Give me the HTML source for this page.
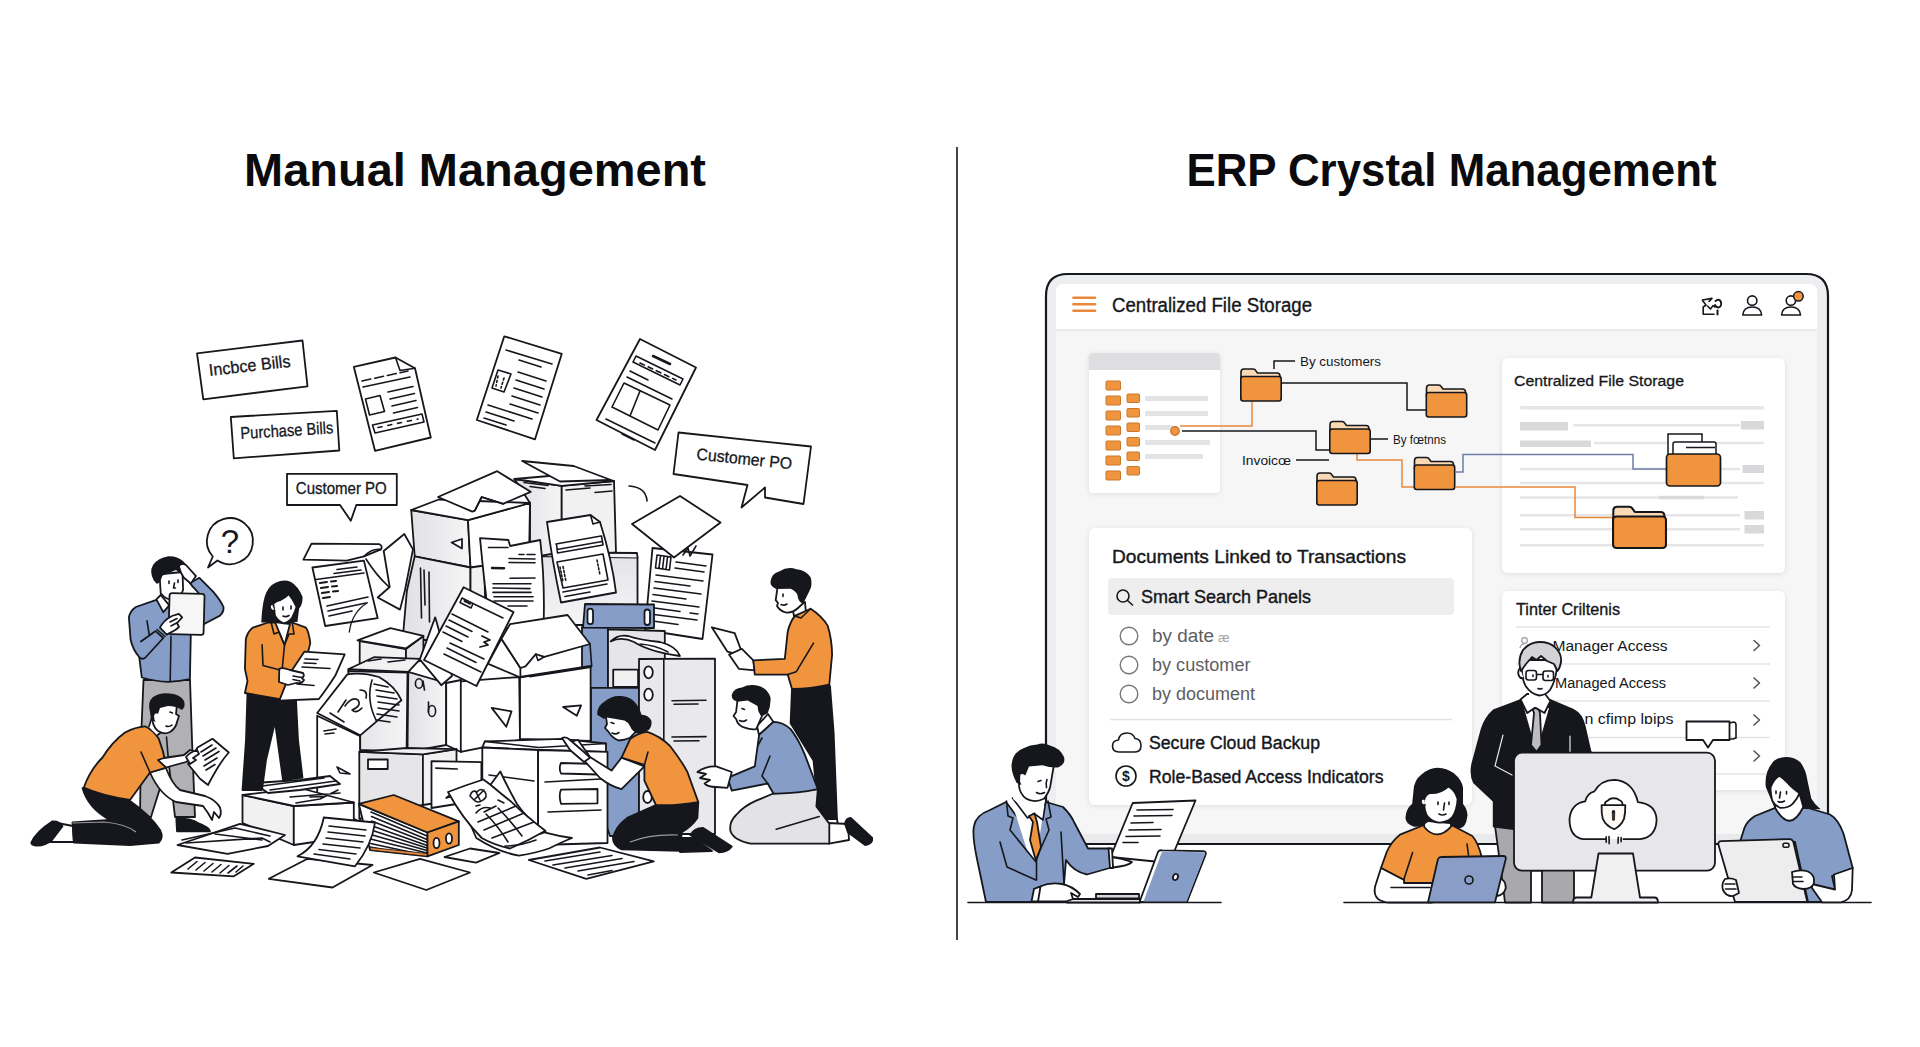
<!DOCTYPE html>
<html lang="en">
<head>
<meta charset="utf-8">
<title>Manual Management vs ERP Crystal Management</title>
<style>
html,body{margin:0;padding:0;background:#fff;}
body{width:1920px;height:1047px;overflow:hidden;font-family:"Liberation Sans",sans-serif;}
svg{display:block;}
text{font-family:"Liberation Sans",sans-serif;fill:#15171c;}
.k{stroke:#15171c;stroke-width:1.8;stroke-linejoin:round;stroke-linecap:round;}
.w{fill:#fff;}
.n{fill:none;}
.g{fill:#e6e6e8;}
.g2{fill:#d8d8db;}
.g3{fill:#f1f1f2;}
.o{fill:#f0943e;}
.b{fill:#859dc7;}
.d{fill:#15171c;}
.l{stroke:#15171c;stroke-width:1.6;stroke-linecap:round;stroke-linejoin:round;fill:none;}
.l2{stroke:#15171c;stroke-width:1.2;stroke-linecap:round;fill:none;}
</style>
</head>
<body>
<svg width="1920" height="1047" viewBox="0 0 1920 1047">
<rect width="1920" height="1047" fill="#fff"/>
<!-- TITLES -->
<text x="475" y="186" text-anchor="middle" font-size="45.500" font-weight="bold" style="fill:#0b0b0d" textLength="462" lengthAdjust="spacingAndGlyphs">Manual Management</text>
<text x="1451.500" y="186" text-anchor="middle" font-size="45.500" font-weight="bold" style="fill:#0b0b0d" textLength="530" lengthAdjust="spacingAndGlyphs">ERP Crystal Management</text>
<line x1="957" y1="147" x2="957" y2="940" stroke="#15171c" stroke-width="1.6"/>
<!-- MONITOR -->
<g>
<defs>
<filter id="sh" x="-5%" y="-5%" width="110%" height="112%"><feDropShadow dx="0" dy="1" stdDeviation="2.5" flood-color="#000" flood-opacity="0.10"/></filter>
<g id="fold">
<path d="M1 4 Q1 1 4 1 L13 1 Q15 1 16 3 L17.5 5 L37 5 Q40 5 40 8 L40 12 L1 12 Z" fill="#fbd9b4" stroke="#15171c" stroke-width="1.6" stroke-linejoin="round"/>
<rect x="0.8" y="8.5" width="40.4" height="24.5" rx="2.5" fill="#f0943e" stroke="#15171c" stroke-width="1.6"/>
</g>
</defs>
<path d="M1046 844 L1046 296 Q1046 274 1068 274 L1806 274 Q1828 274 1828 296 L1828 844 Z" fill="#eceef0" stroke="#15171c" stroke-width="2.2"/>
<path d="M1056 835 L1056 292 Q1056 284 1064 284 L1809 284 Q1817 284 1817 292 L1817 834 Z" fill="#f6f6f7"/>
<rect x="1047.200" y="834" width="779.600" height="9" fill="#e9eaec"/>
<path d="M1056 330 L1056 292 Q1056 284 1064 284 L1809 284 Q1817 284 1817 292 L1817 330 Z" fill="#fff"/>
<line x1="1056" y1="330" x2="1817" y2="330" stroke="#e4e4e6" stroke-width="1.5"/>
<!-- hamburger -->
<g stroke="#e8883a" stroke-width="2.6" stroke-linecap="round"><line x1="1073.5" y1="297.8" x2="1095" y2="297.8"/><line x1="1073.5" y1="304.3" x2="1095" y2="304.3"/><line x1="1073.5" y1="310.8" x2="1095" y2="310.8"/></g>
<text x="1112" y="312" font-size="19.5" textLength="200" lengthAdjust="spacingAndGlyphs" stroke="#15171c" stroke-width="0.35">Centralized File Storage</text>
<!-- header icons -->
<g class="l" stroke-width="1.8">
<path d="M1702.500 300 L1712 298.400 L1709 301.500 M1702.500 300.500 L1706 305 L1703.200 307 L1703.200 314.200 L1714 314.200 M1707.500 306 L1710.500 309 L1713 305.600 L1715 307"/>
<path d="M1715.500 301 Q1719 298 1721 302 Q1722 307 1718 307.500 Q1716 307 1715 305" stroke-width="1.900"/>
<path d="M1717.500 310.600 L1717.500 314.600" stroke-width="2"/>
<circle cx="1752.200" cy="300.600" r="4.700"/><path d="M1742.800 315 Q1743.500 307 1752.200 307 Q1761 307 1761.600 315 Z"/>
<circle cx="1790.900" cy="300.600" r="4.700"/><path d="M1781.600 315 Q1782.200 307 1790.900 307 Q1799.800 307 1800.500 315 Z"/>
</g>
<circle cx="1798.400" cy="296.300" r="4.800" fill="#f0943e" stroke="#15171c" stroke-width="1.5"/>
<!-- left small card -->
<rect x="1089" y="353" width="131" height="140" rx="4" fill="#fff" filter="url(#sh)"/>
<path d="M1089 370 L1089 357 Q1089 353 1093 353 L1216 353 Q1220 353 1220 357 L1220 370 Z" fill="#dedee0"/>
<g fill="#f0943e" stroke="#c9772e" stroke-width="1">
<rect x="1106" y="381" width="14.500" height="9" rx="1"/><rect x="1106" y="396" width="14.500" height="9" rx="1"/><rect x="1106" y="411" width="14.500" height="9" rx="1"/><rect x="1106" y="426" width="14.500" height="9" rx="1"/><rect x="1106" y="441" width="14.500" height="9" rx="1"/><rect x="1106" y="456" width="14.500" height="9" rx="1"/><rect x="1106" y="471" width="14.500" height="9" rx="1"/>
<rect x="1127" y="394" width="12.500" height="8.500" rx="1"/><rect x="1127" y="408.500" width="12.500" height="8.500" rx="1"/><rect x="1127" y="423" width="12.500" height="8.500" rx="1"/><rect x="1127" y="437.500" width="12.500" height="8.500" rx="1"/><rect x="1127" y="452" width="12.500" height="8.500" rx="1"/><rect x="1127" y="466.500" width="12.500" height="8.500" rx="1"/>
</g>
<g fill="#e3e3e5"><rect x="1145" y="396" width="63" height="5" rx="1"/><rect x="1145" y="411" width="63" height="5" rx="1"/><rect x="1145" y="425" width="28" height="5" rx="1"/><rect x="1145" y="440" width="65" height="5" rx="1"/><rect x="1145" y="454" width="58" height="5" rx="1"/></g>
<!-- connectors -->
<g fill="none" stroke-width="1.5" stroke-linejoin="miter">
<path d="M1180 426 L1252 426 L1252 402" stroke="#e8883a"/>
<path d="M1182 431 L1316 431 L1316 450 L1330 450" stroke="#15171c"/>
<path d="M1274 369 L1274 361 L1295 361" stroke="#15171c"/>
<path d="M1281 383 L1407 383 L1407 410 L1426 410" stroke="#15171c"/>
<path d="M1370 439 L1388 439" stroke="#15171c"/>
<path d="M1296 460 L1329 460" stroke="#15171c"/>
<path d="M1357 454 L1357 460 L1402 460 L1402 487 L1414 487" stroke="#e8883a"/>
</g>
<circle cx="1175" cy="431" r="4.300" fill="#f0943e" stroke="#c46f28" stroke-width="1.2"/>
<!-- right card -->
<rect x="1502" y="358" width="283" height="215" rx="6" fill="#fff" filter="url(#sh)"/>
<text x="1514" y="386" font-size="15.5" textLength="170" lengthAdjust="spacingAndGlyphs" stroke="#15171c" stroke-width="0.3">Centralized File Storage</text>
<g fill="#e6e6e8">
<rect x="1520" y="406" width="244" height="3.500" rx="1"/>
<rect x="1573" y="424" width="167" height="2.500"/>
<rect x="1594" y="441.800" width="170" height="2.500"/>
<rect x="1520" y="467.800" width="220" height="2.500"/>
<rect x="1520" y="481.800" width="244" height="2.500"/>
<rect x="1520" y="496.300" width="218" height="2.500"/>
<rect x="1520" y="514" width="220" height="2.500"/>
<rect x="1520" y="528" width="220" height="2.500"/>
<rect x="1520" y="544" width="244" height="2.500"/>
</g>
<g fill="#d9d9db">
<rect x="1520" y="422" width="48" height="8.500"/><rect x="1741" y="421" width="23" height="8.500"/>
<rect x="1520" y="440.500" width="71" height="6.500"/>
<rect x="1742.500" y="465" width="21.500" height="8"/>
<rect x="1659" y="495.800" width="45" height="3.500"/>
<rect x="1744.500" y="511" width="19.500" height="8.500"/><rect x="1744.500" y="525" width="19.500" height="8.500"/>
</g>
<g fill="none" stroke-width="1.5">
<path d="M1456 472 L1463 472 L1463 454.500 L1633 454.500 L1633 469 L1666 469" stroke="#6f7fa3"/>
<path d="M1456 487 L1575 487 L1575 517.500 L1613 517.500" stroke="#e8883a"/>
</g>
<!-- folders -->
<use href="#fold" x="1240" y="368"/>
<use href="#fold" x="1425.500" y="384"/>
<use href="#fold" x="1329" y="420.500"/>
<use href="#fold" x="1413.500" y="456.500"/>
<use href="#fold" x="1316" y="472"/>
<g transform="translate(1612,505.500) scale(1.31,1.29)"><use href="#fold"/></g>
<!-- big folder w/ papers -->
<rect x="1668" y="434" width="34" height="30" fill="#fff" stroke="#15171c" stroke-width="1.5"/>
<path d="M1673 462 L1673 444 Q1673 442 1675 442 L1714 442 Q1716 442 1716 444 L1716 462 Z" fill="#fff" stroke="#15171c" stroke-width="1.5"/>
<line x1="1686" y1="447.500" x2="1715" y2="447.500" stroke="#15171c" stroke-width="1.5"/>
<rect x="1666.500" y="454" width="54" height="32" rx="3.500" fill="#f0943e" stroke="#15171c" stroke-width="1.7"/>
<!-- labels -->
<text x="1300" y="366" font-size="12.500" textLength="81" lengthAdjust="spacingAndGlyphs">By customers</text>
<text x="1393" y="443.500" font-size="12.500" textLength="53" lengthAdjust="spacingAndGlyphs">By fœtnns</text>
<text x="1242" y="464.500" font-size="13" textLength="49" lengthAdjust="spacingAndGlyphs">Invoicœ</text>
<!-- bottom-left card -->
<rect x="1089" y="528" width="383" height="277" rx="6" fill="#fff" filter="url(#sh)"/>
<text x="1112" y="562.500" font-size="19" textLength="294" lengthAdjust="spacingAndGlyphs" stroke="#15171c" stroke-width="0.4">Documents Linked to Transactions</text>
<rect x="1108" y="578" width="346" height="37" rx="4" fill="#eeeeef"/>
<circle cx="1123" cy="596" r="6" class="l" stroke-width="1.7"/><line x1="1127.500" y1="600.500" x2="1132.500" y2="605" class="l" stroke-width="1.9"/>
<text x="1141" y="602.500" font-size="19" textLength="170" lengthAdjust="spacingAndGlyphs" stroke="#15171c" stroke-width="0.4">Smart Search Panels</text>
<g fill="#fff" stroke="#777" stroke-width="1.4"><circle cx="1129" cy="636" r="8.800"/><circle cx="1129" cy="665" r="8.800"/><circle cx="1129" cy="694" r="8.800"/></g>
<g font-size="18" style="fill:#5e5e62"><text x="1152" y="642" style="fill:#5e5e62" textLength="62" lengthAdjust="spacingAndGlyphs">by date</text><text x="1218" y="642" font-size="13" style="fill:#a2a2a6">æ</text>
<text x="1152" y="671" style="fill:#5e5e62" textLength="98.500" lengthAdjust="spacingAndGlyphs">by customer</text>
<text x="1152" y="700" style="fill:#5e5e62" textLength="103" lengthAdjust="spacingAndGlyphs">by document</text></g>
<line x1="1110" y1="719.500" x2="1452" y2="719.500" stroke="#e2e2e4" stroke-width="1.5"/>
<path d="M1119 752 Q1112.500 752 1112.500 746 Q1112.500 740.500 1118.500 740 Q1119.500 733 1127 733 Q1133 733 1135 738.500 Q1141 739 1141 745.500 Q1141 752 1135 752 Z" class="l" stroke-width="1.7"/>
<text x="1149" y="749" font-size="18" textLength="171" lengthAdjust="spacingAndGlyphs" stroke="#15171c" stroke-width="0.4">Secure Cloud Backup</text>
<circle cx="1126" cy="776" r="10" class="l" stroke-width="1.7"/>
<text x="1126" y="781" font-size="14" text-anchor="middle" font-weight="bold">$</text>
<text x="1149" y="782.500" font-size="18" textLength="234.500" lengthAdjust="spacingAndGlyphs" stroke="#15171c" stroke-width="0.4">Role-Based Access Indicators</text>
<!-- bottom-right card -->
<rect x="1502" y="591" width="283" height="199" rx="6" fill="#fff" filter="url(#sh)"/>
<text x="1516" y="615" font-size="16.500" textLength="104" lengthAdjust="spacingAndGlyphs" stroke="#15171c" stroke-width="0.35">Tinter Criltenis</text>
<g stroke="#e4e4e6" stroke-width="1.4"><line x1="1516" y1="627" x2="1770" y2="627"/><line x1="1516" y1="664" x2="1770" y2="664"/><line x1="1516" y1="701" x2="1770" y2="701"/><line x1="1516" y1="737.500" x2="1770" y2="737.500"/><line x1="1516" y1="774" x2="1770" y2="774"/></g>
<circle cx="1524.500" cy="640.500" r="2.800" fill="none" stroke="#9a9a9e" stroke-width="1.200"/><path d="M1520 648 Q1520.500 644 1524.500 644" fill="none" stroke="#9a9a9e" stroke-width="1.200"/>
<g font-size="15.500" style="fill:#2a2a2e"><text x="1552.500" y="651" textLength="115" lengthAdjust="spacingAndGlyphs">Manager Access</text>
<text x="1555" y="687.500" textLength="111" lengthAdjust="spacingAndGlyphs">Managed Access</text>
<text x="1584.500" y="724" textLength="89" lengthAdjust="spacingAndGlyphs">n cfimp lɒips</text></g>
<g class="l" stroke="#555" stroke-width="1.3" style="stroke:#555"><path d="M1754 640.500 L1759.500 645.500 L1754 650.500"/><path d="M1754 678 L1759.500 683 L1754 688"/><path d="M1754 715 L1759.500 720 L1754 725"/><path d="M1754 751 L1759.500 756 L1754 761"/></g>
<path d="M1730 723 L1733.500 722 Q1736 722 1736 725 L1736 738 L1733 739 L1730 739" class="l w" stroke-width="1.5"/>
<path d="M1686.500 721.500 L1729.500 721.500 L1729.500 740 L1713 740 L1708 747.500 L1703 740 L1686.500 740 Z" class="k w" stroke-width="1.6"/>
</g>
<!-- RIGHT PEOPLE -->
<g>
<!-- desk lines -->
<line x1="968" y1="902.500" x2="1221" y2="902.500" class="l" stroke-width="1.8"/>
<line x1="1344" y1="902.500" x2="1871" y2="902.500" class="l" stroke-width="1.8"/>
<!-- man in blue suit -->
<g>
<!-- far arm + suit -->
<path d="M986 902 L977 859 Q972 835 974 826 Q976 815 990 810 L1006 802 L1027 830 L1046 802 L1063 807 Q1071 815 1074 822 L1088 848.500 L1110 848.500 L1111.500 867.500 L1087 874.500 Q1074 872 1066 860 L1064 884 L1063 902 Z" class="k b"/>
<!-- shirt -->
<path d="M1011 800 L1027 850 L1036 862 L1045 800 Z" class="w"/>
<!-- collar -->
<path d="M1012.500 798 L1027.500 818 L1034 813.500 L1043 820 L1046 800" class="l w"/>
<!-- tie -->
<path d="M1029 816 L1034.500 813.500 L1037 822 L1041 847 L1036 861 L1030 840 L1033 822 Z" class="k o" stroke-width="1.4"/>
<!-- lapels -->
<path d="M1006.500 801 L1008 816 L1013 818 L1010 830 L1036 862 M1048 801 L1051 817 L1046 819 L1049 830 L1036.500 858 L1036.500 880" class="l"/>
<path d="M1000 842 L1007 867 L1036 880 M1061 832 L1064 884" class="l"/>
<!-- neck & face -->
<path d="M1016 784 L1013 799 L1030 813 L1044 799 L1045 792 Z" class="w"/>
<path d="M1019.500 772 L1019 786 Q1020 794 1026 798.500 Q1034 803.500 1044 798.800 Q1049 792 1050.200 786.700 L1053.700 766 L1040 761 L1026 763 Z" class="k w" stroke-width="1.6"/>
<path d="M1016.700 783 Q1011 772 1011.600 764.400 Q1013 752 1024 748 Q1030 745 1037.300 744.600 Q1043 742 1050 745.500 Q1060 748 1064 757 Q1066 764 1058 767.500 Q1050 768 1042.500 765.200 L1029 766.500 L1025.300 775.500 Q1021 772.500 1019.300 776 Q1019 781 1021.500 785 Z" class="d"/>
<path d="M1038 781.500 L1041 780.500 M1047 779.500 Q1045.500 783 1046.500 787.500 M1036.500 792.500 Q1040 795 1044.500 792.500" class="l" stroke-width="1.5"/>
<!-- paper -->
<path d="M1132.700 803 L1195.500 800.500 L1174 852 L1160 862 L1110.500 857 Z" class="k w"/>
<path d="M1137 810 L1173 809.500 M1134 816 L1172 815.500 M1131 823 L1153 822.500 M1129 830 L1161 829.500 M1126 836.500 L1160 836 M1123 842.500 L1138 842.500" class="l" stroke-width="1.5"/>
<!-- right hand -->
<path d="M1110 857 Q1122 858 1132 862 Q1128 866 1113 867.500 Z" class="k w" stroke-width="1.5"/>
<path d="M1108.500 848.500 L1112 848.500 L1113 868 L1110 868 Z" class="k w" stroke-width="1.3"/>
<!-- laptop -->
<path d="M1067 899 L1140 899 L1140 902.500 L1067 902.500 Z" class="k g"/>
<path d="M1096 894 L1139 894 L1139 898.500 L1096 898.500 Z" class="k g2" stroke-width="1.4"/>
<path d="M1158 852 Q1159 850 1162 850.300 L1203 851.200 Q1207 851.500 1205.500 855 L1187 902 L1139.500 902 Z" class="k w"/>
<path d="M1161.500 853 Q1162 851.500 1164 851.600 L1203 852.200 Q1205.500 852.500 1204.500 855 L1186.500 901.500 L1143.500 901.500 Z" class="b"/>
<ellipse cx="1175.500" cy="877" rx="2.400" ry="3.200" class="k w" stroke-width="1.4" transform="rotate(20 1175.500 877)"/>
<!-- left hand -->
<path d="M1034 889 L1040 886.500 Q1050 882 1062 884 Q1072 886 1080 894 L1078 897 L1071 893 L1073 899 L1066 901.500 L1042 901.500 L1036 901.500 Z" class="k w" stroke-width="1.5"/>
<path d="M1034 889 L1040.500 886.500 L1038 901.500 L1031.500 901.500 Z" class="k w" stroke-width="1.3"/>
</g>
<!-- standing man -->
<g>
<!-- trousers -->
<path d="M1495 826 L1574 826 L1574 902.500 L1542 902.500 L1542 870.700 L1531 870.700 L1531 902.500 L1505 902.500 Q1501 870 1495 826 Z" fill="#a9a9ab" class="k"/>
<!-- jacket -->
<path d="M1520.500 700 L1494 710 Q1485 718 1481.700 729 L1472.300 763.700 Q1470 775 1474 782.500 L1493.700 801 L1493.700 826.600 L1513.800 829.200 L1600 829 L1600 760 L1590.500 751.700 L1584.700 726.300 Q1582 714 1574 710.200 L1550.400 700 Z" class="k d"/>
<path d="M1524 708 L1536.500 752 L1549 708 Z" class="w"/>
<path d="M1503 735 L1495 766 L1512 775 M1570 736 L1570 752" stroke="#e8e8ea" stroke-width="1.2" fill="none" stroke-linecap="round"/>
<!-- tie -->
<path d="M1532.500 709 L1538 707.600 L1540 713 L1541.500 745 L1536.500 751.700 L1531 745 L1534 713 Z" fill="#bdbdc0" class="k" stroke-width="1.3"/>
<!-- collar -->
<path d="M1520.500 699.500 L1527.200 713 L1535.200 707.600 L1544.500 713 L1550.400 701 L1545 694 L1527 694 Z" class="k w" stroke-width="1.5"/>
<!-- neck -->
<path d="M1529 688 L1529 702 L1535.200 707 L1544 701 L1544 688 Z" class="w"/>
<!-- face -->
<path d="M1521.800 668 Q1522 680 1525.800 686.200 Q1531 694 1539.200 695.500 Q1546 695 1550 690 Q1555 682 1556.600 670 L1556 660 L1523 660 Z" class="k w" stroke-width="1.6"/>
<path d="M1520 668 Q1517 672 1519 676 Q1520.500 679 1523.500 678" class="k w" stroke-width="1.4"/>
<!-- hair -->
<path d="M1521 671 Q1517 660 1523 650 Q1530 642 1539.200 642 Q1550 642 1555.200 647.400 Q1562 654 1561 662 Q1560 668 1557.500 671 L1554 664 L1547 661 L1541 656 L1536.500 660 L1532 657 L1526 664 Z" fill="#d3d3d5" class="k" stroke-width="1.6"/>
<!-- glasses -->
<rect x="1526" y="670.500" width="10.500" height="9.500" rx="2.500" class="l" stroke-width="1.9"/>
<rect x="1543" y="671" width="10.500" height="9.500" rx="2.500" class="l" stroke-width="1.9"/>
<path d="M1536.500 674.500 L1543 674.500 M1533 675 L1533 676.500 M1548 675.500 L1548 677 M1538 688.500 Q1540 689.500 1542 688.500" class="l" stroke-width="1.5"/>
</g>
<!-- woman orange -->
<g>
<path d="M1424 825 L1400 834.600 Q1391 842 1386.700 852 L1381 868 L1404 880 L1403 888 L1440 888 L1482 858 Q1478 842 1472.300 836 L1451 824.700 Z" class="k o"/>
<path d="M1381 868 L1375 886.700 Q1373.500 895 1378 899 Q1383 902.500 1389.400 902.500 L1432 902.500 L1432 883 L1404 883 L1404 880 Z" class="k w" stroke-width="1.6"/>
<path d="M1391 887.500 L1430 887.500" class="l" stroke-width="1.4"/>
<path d="M1412.600 852.500 L1404 879 M1467 844 L1468.500 855" class="l" stroke-width="1.500"/>
<!-- neck -->
<path d="M1424.200 818 L1424.200 827 Q1437 842 1451 826.600 L1451 815 Z" class="k w" stroke-width="1.5"/>
<!-- hair back -->
<path d="M1413.500 790.500 Q1414 780 1421.500 774.400 Q1429 768 1437.600 767.700 Q1447 768 1453.600 773.100 Q1462 780 1463 787.800 L1463 803.800 Q1469 812 1467 818 Q1466 826 1461 828 Q1455 829 1450 824 L1428 822 Q1420 828 1413.500 826.600 Q1405 823 1405.500 817.200 Q1406 809 1412.200 803.800 Z" class="d"/>
<!-- face -->
<path d="M1424 800 Q1424 812 1428 817 Q1434 823 1440.200 822.600 Q1448 822 1452.300 817.200 Q1457 810 1457.600 799 Q1455 790 1448.300 786.500 Q1440 794 1429.500 793.100 Q1425 795 1424 800 Z" class="k w" stroke-width="1.5"/>
<path d="M1424.500 799 Q1420.500 798 1421 802.500 Q1422 806 1425 805" class="k w" stroke-width="1.3"/>
<path d="M1438 802 L1438 804.500 M1449 802 L1449 804.500 M1444.500 803 L1443.500 810 M1439 814 Q1442.500 816 1446 814" class="l" stroke-width="1.4"/>
<!-- right hand -->
<path d="M1498 877 Q1506 880 1505.800 888 Q1504 895 1497 896 Z" class="k w" stroke-width="1.5"/>
<!-- laptop -->
<path d="M1438 859 Q1439 856.800 1442 857 L1503 856 Q1507 856 1505.500 860 L1495 902.300 L1428 902.300 Z" class="k" fill="#8a9dc6"/>
<circle cx="1469" cy="880" r="4" class="l" stroke-width="1.5" fill="#9fb0d2"/>
</g>
<!-- iMac -->
<g>
<rect x="1514" y="752.700" width="201" height="118" rx="8" class="k" fill="#e7e7e9"/>
<path d="M1598.500 853.500 L1633 853.500 L1640 897.500 L1655 897.500 Q1658 898 1658 902.500 L1573 902.500 Q1573 898 1576 897.500 L1591.300 897.500 Z" class="k" fill="#f0f0f1" stroke-width="1.6"/>
<path d="M1605.800 839.100 L1583 839.100 Q1569.500 837 1569.500 819 Q1571 803.500 1585.200 801.300 Q1587 793.500 1594.400 791.400 Q1601 780 1614.200 779.900 Q1633 781 1637.900 802.100 Q1656 804 1656.600 819.700 Q1656 837 1640.200 839.100 L1623.400 839.100" class="k w" stroke-width="1.700"/>
<path d="M1606.200 836.800 L1606.200 842.200 M1609 836.500 L1609.200 843.700 M1618.300 837.200 L1618 843.300 M1621.100 837.600 L1621.100 841.800" class="l" stroke-width="1.400"/>
<path d="M1605 804.800 Q1604.500 801.500 1607.500 800.800 Q1610 798 1613.500 798.300 Q1617 798 1619 800 Q1622.500 801 1622.600 804.800" class="k w" stroke-width="1.500"/>
<path d="M1601.600 805.100 L1625.300 805.100 Q1625.500 813 1624 818.900 Q1621 826 1614.200 829.200 Q1606 826 1602.800 818.900 Q1601.300 813 1601.600 805.100 Z" class="k" fill="#fefaf3" stroke-width="1.600"/>
<circle cx="1613.500" cy="811.800" r="1.700" class="d"/><path d="M1612.300 812 L1614.700 812 L1614.500 820 Q1613.500 821 1612.500 820 Z" fill="#4a2f1c" stroke="#15171c" stroke-width="0.800"/>
</g>
<!-- woman blue -->
<g>
<path d="M1775.200 807.900 L1755 816 Q1747 821 1744.400 828 L1740 842 L1795 842 L1808 902 L1838 902 L1832 876 L1852.700 868 L1843.400 833.200 Q1838 819 1830 814.500 L1803.300 806.500 Z" class="k b"/>
<path d="M1834 874.500 L1852.700 868 L1852 890 Q1851 900 1841 902.300 L1822 902.300 L1812 888 L1812 884 L1835 889.500 Z" class="k w" stroke-width="1.6"/>
<!-- hair back -->
<path d="M1765.800 787 Q1764 772 1773.800 761 Q1780 756.500 1787.200 757 Q1795 757.500 1800.600 762.400 Q1806 770 1807.300 779.800 L1811.300 798.500 Q1815 805 1820.600 809.200 L1803.300 809 L1775 809 Z" class="d"/>
<!-- neck -->
<path d="M1775.200 800 L1775.200 808 Q1790 834 1803.300 807 L1800 795 Z" class="k w" stroke-width="1.5"/>
<!-- face -->
<path d="M1770.500 787.800 Q1771 797 1772.500 801.200 Q1775 806 1780.500 807.900 Q1788 808 1792.600 803.800 Q1798 798 1799.300 793.100 Q1791 787 1787.200 782.400 Q1783 778 1779.200 775.800 Q1773 780 1770.500 787.800 Z" class="k w" stroke-width="1.5"/>
<path d="M1776 791 L1776 793.500 M1786.500 791.500 L1786.500 794 M1780.500 792 L1779.500 798 M1778 801.500 Q1781 803 1784.500 801" class="l" stroke-width="1.4"/>
<!-- tablet -->
<path d="M1718.500 845 Q1717.500 841.300 1721.500 841.200 L1789 839.100 Q1792.600 839 1793.500 842.500 L1807.300 902 L1735 902 Z" class="k" fill="#ededee"/>
<rect x="1783" y="843.300" width="6" height="4" rx="1.500" class="l" stroke-width="1.5"/>
<!-- hands -->
<path d="M1725 879 Q1721 884 1723 890 Q1726 896.500 1733 896 L1739 893 L1736 880 Q1731 877.500 1725 879 Z" class="k w" stroke-width="1.5"/>
<path d="M1725 884 L1735 884 M1725.500 889 L1736 889" class="l" stroke-width="1.2"/>
<path d="M1792 872 Q1800 869 1808 871.500 Q1815 875 1814 883 Q1812 889 1803 889 Q1795 888 1793 884 Z" class="k w" stroke-width="1.5"/>
<path d="M1792.500 877 L1802 877 M1793 881.500 L1803 881.500" class="l" stroke-width="1.2"/>
</g>
</g>
<!-- LEFT SCENE -->
<g>
<defs>
<linearGradient id="gg" x1="0" y1="0" x2="1" y2="0"><stop offset="0" stop-color="#e1e1e4"/><stop offset="1" stop-color="#f5f5f6"/></linearGradient>
<linearGradient id="gv" x1="0" y1="0" x2="0" y2="1"><stop offset="0" stop-color="#e4e4e7"/><stop offset="1" stop-color="#f5f5f6"/></linearGradient>
</defs>
<!-- ===== labels & flying docs ===== -->
<g>
<path d="M197 353.300 L302.500 340.500 L307.500 386.300 L203.300 399.300 Z" class="k w" stroke-width="1.6"/>
<text transform="translate(209.500 376) rotate(-6.500)" font-size="17" textLength="82" lengthAdjust="spacingAndGlyphs" stroke="#15171c" stroke-width="0.3">Incbce Bills</text>
<path d="M230.800 417 L336.800 410.800 L339.300 450.500 L233.800 458.300 Z" class="k w" stroke-width="1.6"/>
<text transform="translate(240.800 439) rotate(-3.500)" font-size="17" textLength="93" lengthAdjust="spacingAndGlyphs" stroke="#15171c" stroke-width="0.3">Purchase Bills</text>
<path d="M287 473.800 L396.800 473.800 L396.800 505 L356.300 505 L350.800 520.800 L340 505 L287 505 Z" class="k w" stroke-width="1.6"/>
<text x="295.800" y="494" font-size="16" textLength="91" lengthAdjust="spacingAndGlyphs" stroke="#15171c" stroke-width="0.3">Customer PO</text>
<path d="M678.500 432.500 L811 446.500 L803.500 504 L765 497.500 L765 487.500 L741.500 507.500 L747.500 485 L673.500 474 Z" class="k w" stroke-width="1.6"/>
<text transform="translate(696 459.500) rotate(5.800)" font-size="16.500" textLength="96" lengthAdjust="spacingAndGlyphs" stroke="#15171c" stroke-width="0.3">Customer PO</text>
<!-- question bubble -->
<path d="M217.500 560.500 L208 567.500 L212.800 556.500 A23 23 0 1 1 217.500 560.500 Z" class="k w" stroke-width="1.6"/>
<text x="230" y="553" font-size="33" text-anchor="middle">?</text>
<!-- doc 1 -->
<path d="M353.800 366.800 L395.500 357.500 L415 368.300 L430.800 437.500 L375 450.800 Z" class="k w" stroke-width="1.6"/>
<path d="M395.500 357.500 L400 370.500 L415 368.300" class="l" stroke-width="1.5"/>
<g class="l" stroke-width="1.9"><path d="M362 381 L408 371" stroke-dasharray="9 4"/><path d="M363 387 L410 377"/><path d="M388 392 L413 386.500 M390 399 L414.500 393.500 M392 406 L416 400.500 M393.500 413 L417.500 407.500"/><path d="M365.500 399 L380 395.500 L384.500 411.500 L369.500 415 Z"/><path d="M372.500 425 L422 414 L424 422 L375 433 Z"/><path d="M378 427.500 L418 419" stroke-dasharray="4 6"/></g>
<!-- doc 2 -->
<path d="M504.300 336.300 L561.800 353.800 L535 439.300 L476.800 420 Z" class="k w" stroke-width="1.6"/>
<g class="l" stroke-width="1.9"><path d="M506 350 L552 364 M519 360 L541 367 M518 372 L546 381 M516 380 L544 389 M514 388 L542 397 M512 396 L540 405 M510 404 L538 413 M488 405 L532 419 M486 412 L514 421 M484 418 L506 425"/><path d="M498 370 L511 374 L504 392 L492 388 Z"/><path d="M498 376 L496 386 M504 378 L501 388" stroke-dasharray="2 2.500"/></g>
<!-- doc 3 -->
<path d="M640 339 L696 367.500 L655 450 L596.500 420 Z" class="k w" stroke-width="1.6"/>
<g class="l" stroke-width="1.9"><path d="M653 356 L670 364" stroke-width="2.600"/><path d="M636 356 L683 379 L680 385 L633 362 Z"/><path d="M640 363 L676 380" stroke-dasharray="5 4"/><path d="M630 371 L648 380 M627 377 L672 399"/><path d="M624 383 L670 405 L658 430 L612 407 Z M640 391 L630 416"/><path d="M606 419 L655 443 M622 434 L634 440"/></g>
</g>
<!-- ===== pile: back layer ===== -->
<g>
<!-- box B -->
<path d="M514.400 479 L561.700 485.800 L561.700 560 L530 560 L530 503 Z" fill="url(#gg)" class="k" stroke-width="1.6"/>
<path d="M561.700 485.800 L614 481 L616 552.500 L561.700 560 Z" class="k g3" stroke-width="1.6"/>
<path d="M514.400 479 L561.700 485.800 L614 481 L572 474 Z" class="k w" stroke-width="1.6"/>
<path d="M522.100 461 L573.700 466 L611 480 L560 481.500 Z" class="k w" stroke-width="1.6"/>
<path d="M524 482.500 L548 485.500 M530 486.500 L545 488.500 M566 490 L590 488 M585 486 L611 484.500 M595 492.500 L612 491" class="l" stroke-width="1.5"/>
<!-- box A -->
<path d="M411.200 510 L468 520.200 L470.500 567.500 L414.700 556.300 Z" fill="url(#gg)" class="k" stroke-width="1.6"/>
<path d="M468 520.200 L530 503 L529 560 L470.500 567.500 Z" class="k w" stroke-width="1.6"/>
<path d="M411.200 510 L438.700 499.500 L530 503 L468 520.200 Z" class="k w" stroke-width="1.6"/>
<path d="M438 497 L497.200 471.200 L530.700 491.800 L503 503.800 L481.700 497 L474.800 510.700 L472.300 511.600 Z" class="k w" stroke-width="1.6"/>
<path d="M474.800 510.700 L481.700 497 L503.200 503.800" class="l" stroke-width="1.5"/>
<path d="M451.600 542.500 L462 539 L462 548.500 Z" class="k w" stroke-width="1.5"/>
<!-- box C -->
<path d="M414.700 556.300 L470.500 567.500 L470.500 640 L402.600 640 L406.900 590.700 Z" fill="url(#gg)" class="k" stroke-width="1.6"/>
<path d="M470.500 567.500 L484.300 565.700 L486 640 L470.500 640 Z" class="k g3" stroke-width="1.6"/>
<path d="M420.500 568 L421.500 618 M424 570 L425 605 M429 572 L429.500 622" class="l" stroke-width="1.7"/>
<!-- grey box mid -->
<path d="M540 556 L637.500 557.500 L637.500 625 L540 625 Z" fill="url(#gv)" class="k" stroke-width="1.6"/>
<path d="M540 556 L560 552.500 L637 553 L637.500 557.500" class="k g3" stroke-width="1.6"/>
<!-- doc F -->
<path d="M652.500 548 L712.500 554.500 L702.500 639 L645 630 Z" class="k w" stroke-width="1.6"/>
<g class="l" stroke-width="1.9"><path d="M657 555 L671 557 L669.500 570 L655.500 568 Z M660.500 556 L659 568 M664 556.500 L662.500 569 M667.500 557 L666 569.500"/><path d="M676 562 L706 566 M675 568 L704 572 M656 575 L703 581 M655 581.500 L690 586 M654 588 L701 594 M653 594.500 L686 599 M652 601 L699 607 M651 607.500 L680 611.500 M690 613 L698 614 M650 614 L697 620 M649 620.500 L678 624.500"/></g>
<!-- diamond paper -->
<path d="M632 524 L680 496 L720.500 522.500 L674 557.500 Z" class="k w" stroke-width="1.6"/>
<path d="M629 486 Q646 487 647 501" class="l" stroke-width="2"/>
<path d="M683 555 L688 548 L690 556 L696 546" class="l" stroke-width="1.3"/>
<!-- doc D -->
<path d="M480 538.200 L508.400 540 L510.100 546 L540.200 540 Q545 580 543.600 625 L490 630 Q484 580 480 538.200 Z" class="k w" stroke-width="1.6"/>
<g class="l" stroke-width="1.9"><path d="M488.500 547.500 L508 547.500 M519 554.500 L524 554.500 M527 554.500 L535 554.500 M509 558.500 L535 559 M509 562.500 L535 562.800 M510 578.200 L535 578 M493 583.800 L531 583.800 M493 588 L530 588.600 M493 592.400 L531 592.400 M494 596.700 L533 596.700 M494 601 L533 601 M508 606 L527 606"/><path d="M492 568 L504 568.300" stroke-width="2.400"/></g>
<!-- doc E -->
<path d="M547 522 L590.500 515 L600 522 Q612 560 616 592.500 L561 602.500 Q552 560 547 522 Z" class="k w" stroke-width="1.6"/>
<path d="M590.500 515 L593 524 L600 522" class="l" stroke-width="1.5"/>
<g class="l" stroke-width="1.9"><path d="M556 544 L601 536 M557 549.500 L602 541.500 M556.500 544 L557.500 553 L603 545 L601.500 536"/><path d="M557 562 L603 554 L608 580 L563 588 Z"/><path d="M560 567 L563 582 M563 566.500 L566 581.500 M597 560 L600 575" stroke-dasharray="2 2"/><path d="M563 592 L607 584 M565 596.500 L590 592"/></g>
</g>
<!-- ===== pile: middle layer ===== -->
<g>
<!-- blue pieces -->
<path d="M582 627 L608 627 L608 690 L582 690 Z" class="k b" stroke-width="1.6"/>
<path d="M585 604 L654 604.500 L654 628 L583 627.600 Z" class="k b" stroke-width="1.6"/>
<rect x="587.500" y="608.700" width="5.500" height="15.500" rx="2.700" class="k w" stroke-width="1.5"/>
<rect x="644.500" y="609.500" width="5.500" height="15.500" rx="2.700" class="k w" stroke-width="1.5"/>
<!-- grey box right of blue -->
<path d="M608 629.300 L664.800 631 L664.800 690 L608 690 Z" class="k g" stroke-width="1.6"/>
<path d="M610.600 641.400 Q622 636 634 642 Q650 652 680 656 Q676 646 660 642 Q640 640 628 636 Q618 634 610.600 641.400 Z" class="k w" stroke-width="1.5"/>
<path d="M640 644 Q655 645 668 652" class="l" stroke-width="1.3"/>
<path d="M613.200 669.700 L638.100 669.700 L638.100 687 L613.200 687 Z" class="k g3" stroke-width="1.6"/>
<!-- blue lower box -->
<path d="M590.900 687.800 L639 687.800 L639 836 L610 836 L590.900 780 Z" class="k b" stroke-width="1.6"/>
<!-- file cabinet -->
<path d="M639 659 L715 658.700 L715 834 L639 834 Z" class="k" fill="#e9e9eb" stroke-width="1.7"/>
<path d="M663.800 659 L663.800 834" class="l"/>
<ellipse cx="648.500" cy="672.300" rx="4.300" ry="6" class="k w" stroke-width="1.6"/>
<ellipse cx="648.500" cy="694.700" rx="4.300" ry="6" class="k w" stroke-width="1.6"/>
<ellipse cx="647.500" cy="797" rx="4.300" ry="6" class="k w" stroke-width="1.6"/>
<path d="M672 700.700 L706 700.300 M674 704.300 L698 704 M672 737 L706 736.600 M674 741 L699 740.700" class="l" stroke-width="1.7"/>
<!-- box behind 'ab' (top) -->
<path d="M359.700 641 L406 649 L406 664 L359.700 670 Z" class="k g3" stroke-width="1.6"/>
<path d="M406 649 L423.400 636 L423.400 660 L406 664 Z" class="k g" stroke-width="1.500"/>
<path d="M357.500 640.300 L390.400 628.200 L423.400 635.900 L405.800 648.500 Z" class="k w" stroke-width="1.6"/>
<!-- lid box left with doc -->
<path d="M383.700 551 L404.300 534 L413 549.400 L405 590 L400 609.600 L377.700 597.500 L389.700 587 Z" class="k w" stroke-width="1.6"/>
<path d="M303.400 559.700 L311.500 543.700 L379.400 544.200 Q383 546 381 549.400 L364 556.300 L346.700 560.600 Z" class="k w" stroke-width="1.6"/>
<path d="M364 556.300 Q372 548 381 549.400 M366 559 Q376 575 389 587" class="l" stroke-width="1.4"/>
<path d="M312.400 567.500 L363.900 560.600 L377.700 618.200 L325.200 626 Z" class="k w" stroke-width="1.6"/>
<g class="l" stroke-width="1.5"><path d="M337 569.500 L357 567 M334 573.500 L361 570 M316 579.500 L364 573"/><path d="M320 583 L327 582 M331 581.500 L336 581 M321 588 L328 587 M332 586.500 L337 586 M322 593 L329 592 M333 591.500 L338 591 M323 598 L330 597" stroke-width="2"/><path d="M327 606 L368 597 M328 611 L366 603 M329 616 L352 611"/><path d="M349.300 632 Q352 612 367.400 602.700" stroke-width="1.300"/></g>
<!-- tall white box (left) -->
<path d="M317.200 715.700 L360.200 736.300 L360.200 822 L317.200 800 Z" class="k w" stroke-width="1.6"/>
<path d="M324 731 L336 729 M325 734 L334 733 M337 767 L350 774 L340 773 Z" class="l" stroke-width="1.4"/>
<!-- box 'ab' -->
<path d="M348.100 669.200 L373.900 657.200 L420.400 658.900 L408.300 671.800 Z" class="k g3" stroke-width="1.6"/>
<path d="M348.100 671 L407.500 672.700 L406.600 751.800 L360.200 750 L360.200 736 Z" fill="url(#gg)" class="k" stroke-width="1.6"/>
<path d="M408.300 671.800 L446.200 683 L446.200 745 L407.500 751.800 Z" fill="url(#gg)" class="k" stroke-width="1.6"/>
<path d="M446.200 683 L461 680 L461 752 L446.200 745 Z" class="k w" stroke-width="1.5"/>
<ellipse cx="419" cy="683.500" rx="3.600" ry="4.700" class="l" stroke-width="1.6"/><path d="M423 681 L424.500 690" class="l" stroke-width="1.5"/>
<ellipse cx="432" cy="711" rx="3.600" ry="5.500" class="l" stroke-width="1.6"/><path d="M428.500 702 L428.500 712" class="l" stroke-width="1.500"/>
<path d="M368 661 L381 659 M388 662 L405 660" class="l" stroke-width="1.400"/>
<!-- portrait paper -->
<path d="M317.200 713 L347.300 674.400 Q362 672 379 677 Q395 686 401.400 700.200 L360.200 735.400 Z" class="k w" stroke-width="1.6"/>
<g class="l" stroke-width="1.4"><path d="M338 712 L346 700 M345 706 Q352 696 358 700 Q362 706 352 710 Q356 714 362 708 M360 690 Q368 690 366 698"/><path d="M374 684 L388 687 M376 690 L394 693 M377 696 L397 699 M378 702 L399 705 M378 708 L399 711 M377 714 L397 717 M376 720 L390 722"/><path d="M372 680 Q366 700 376 720"/><path d="M330 713 L344 722"/></g>
<!-- lower grey box -->
<path d="M359.300 751.800 L422.900 754.300 L422.900 805 L359.300 818.800 Z" class="k g" stroke-width="1.6"/>
<path d="M422.900 754.300 L456.500 749.200 L456.500 800 L422.900 805 Z" class="k g3" stroke-width="1.6"/>
<path d="M359.300 751.800 L406.600 748 L456.500 749.200 L422.900 754.300 Z" class="k g3" stroke-width="1.500"/>
<rect x="368" y="759.500" width="19.700" height="9.500" class="k w" stroke-width="1.5"/>
<!-- white box -->
<path d="M431.500 761.200 L481.400 762.100 L481.400 800 L431.500 808 Z" class="k w" stroke-width="1.6"/>
<path d="M435.800 768.100 L457.300 769" class="l" stroke-width="2"/>
<!-- open box center -->
<path d="M460.800 681.300 L519.200 677 L520 740 L460.800 751.800 Z" class="k w" stroke-width="1.6"/>
<path d="M520 677 L590.600 665.800 L590.600 741 L520 739 Z" class="k w" stroke-width="1.6"/>
<path d="M487.700 663.700 L501.400 638.800 L520.400 668 L520.400 677.500 Z" class="k w" stroke-width="1.6"/>
<path d="M501.400 638.800 L510 624.200 L567.600 615 L590 644 L544.400 656.800 L535.800 654.200 L525.500 666.300 L520.400 668 Z" class="k w" stroke-width="1.6"/>
<path d="M535.800 654.200 L538 660.500 L544.400 656.800" class="l" stroke-width="1.400"/>
<path d="M520.400 677.500 L591.700 666.300 L590 644" class="l"/>
<path d="M529.800 676.600 L591 667.200" class="l" stroke-width="1.3"/>
<path d="M491.700 707.900 L511.500 711.400 L506.300 726.800 Z" class="k w" stroke-width="1.5"/>
<path d="M563.100 707 L581.100 705.300 L576.800 715.700 Z" class="k w" stroke-width="1.5"/>
<!-- doc G + paper behind -->
<path d="M435.200 617.300 L419.800 659.400 L441.300 685.200 L452 676 Z" class="k w" stroke-width="1.6"/>
<path d="M463.600 587.200 L513.500 612.100 L476.500 686 L424 660 Z" class="k w" stroke-width="1.6"/>
<g class="l" stroke-width="1.9"><path d="M462 598 L473 603.500 L471 608 L460 602.500 Z M474 604 L503 618"/><path d="M464.500 601 L466.500 602 M468 602.800 L470 603.800" stroke-width="2"/><path d="M452 614 L488 632 M449 620 L472 631.500 M446 626 L468 637 M443 632 L462 641.500 M444 654 L481 672 M447 648 L476 662.500 M450 643 L484 659"/><path d="M482 636 L490 640 L484 642 L488 645 L480 647" stroke-width="1.800"/></g>
<!-- drawer box -->
<path d="M484.800 741.400 L561.300 738.900 L606 743.500 L606 751.800 L539 750 L482.300 747.500 Z" class="k w" stroke-width="1.6"/>
<path d="M484.800 741.400 L539 747.500 L606 743.500" class="l" stroke-width="1.400"/>
<path d="M482.300 747.500 L538.100 750 L538.100 845 L482.300 838 Z" class="k w" stroke-width="1.6"/>
<path d="M538.100 750 L607.500 751.800 L607.500 843 L538.100 845 Z" class="k w" stroke-width="1.6"/>
<path d="M561 763 Q558.500 768 561 773.500 L597.500 774.500 L597.500 764 Z" class="k w" stroke-width="1.5"/>
<path d="M561 789.600 Q558.500 795 561 803.800 L597.500 803.300 L597.500 789 Z" class="k w" stroke-width="1.5"/>
<path d="M545 782 L601 779 M548 812 L601 810 M489 775 L534 781" class="l" stroke-width="1.400"/>
</g>
<!-- ===== front/floor layer ===== -->
<g>
<!-- floor blank papers -->
<path d="M268.800 878.800 L307.500 858.800 L372.500 865 L332.500 887.500 Z" class="k w" stroke-width="1.6"/>
<path d="M373.800 872.500 L420 858.800 L470 872.500 L426.300 890 Z" class="k w" stroke-width="1.6"/>
<path d="M444.500 857 L470 848.500 L499.400 853 L476 862.700 Z" class="k w" stroke-width="1.500"/>
<path d="M528.800 860 L600 847.500 L653.800 861.300 L586.300 878.800 Z" class="k w" stroke-width="1.6"/>
<path d="M545 861 L600 852 M553 865 L612 855.500 M565 868 L622 858.500 M578 871 L634 861.500 M588 875 L612 870.500" class="l" stroke-width="1.6"/>
<!-- box with papers bottom-left -->
<path d="M242.500 795 L293.800 806 L293.800 845 L242.500 823 Z" class="k g3" stroke-width="1.6"/>
<path d="M293.800 806 L353.800 802.500 L353.800 836 L293.800 845 Z" class="k w" stroke-width="1.6"/>
<path d="M242.500 795 L300 788 L353.800 802.500 L293.800 806 Z" class="k w" stroke-width="1.6"/>
<path d="M254 783 L300 780 L330 776 L340 784 L300 790 L268 793 Z" class="k w" stroke-width="1.500"/>
<path d="M262 786 L324 778 M270 790 L336 781 M290 797 L340 793 M296 803 L320 799 L338 790 M310 797 L324 796.500" class="l" stroke-width="1.400"/>
<!-- stack of papers on floor -->
<path d="M177.500 845 L240 823.800 L285 835 L268 846 L227.500 853.800 Z" class="k w" stroke-width="1.600"/>
<path d="M182 840 L235 828 L270 836 M186 843 L262 838 L270 842 M215 834 L262 840" class="l" stroke-width="1.400"/>
<!-- paper w/ lines -->
<path d="M171.300 872.500 L195 857.500 L253.800 863.800 L233.800 876.300 Z" class="k w" stroke-width="1.600"/>
<path d="M188 869 L197 861.500 M196 870 L205 862.500 M204 871 L213 863.500 M212 872 L221 864.500 M220 873 L229 865.500 M228 873 L237 866 M236 872 L243 866" class="l" stroke-width="1.600"/>
<!-- orange binder -->
<path d="M358.800 803.800 L427.500 832.500 L427.500 856.300 L370 850 Z" class="k w" stroke-width="1.600"/>
<path d="M371 812 L427 836 M371.500 816.500 L427 839.500 M371.500 821 L427 842.500 M371 825.500 L427 845.500 M371 830 L427 848 M370.500 834.500 L427 850.500 M370.500 839 L427 853 M370.500 843.500 L424 855 M370 847 L410 854.500" class="l" stroke-width="1.500"/>
<path d="M370 850 L427.500 856.300 L427.500 853.500 L371 847.500 Z" fill="#e8883a" stroke="#15171c" stroke-width="0.800"/>
<path d="M358.800 803.800 L393.800 795 L458.800 821.300 L427.500 832.500 Z" class="k o" stroke-width="1.600"/>
<path d="M427.500 832.500 L458.800 821.300 L458.800 845 L427.500 856.300 Z" class="k o" stroke-width="1.600"/>
<ellipse cx="436.500" cy="843" rx="3" ry="5.200" class="k w" stroke-width="1.500"/><ellipse cx="449" cy="838.500" rx="3" ry="5.200" class="k w" stroke-width="1.500"/>
<!-- curled paper w/ lines -->
<path d="M323.800 817.500 L375 822.500 Q372 845 355 866.300 L297.500 856.300 Q318 846 323.800 817.500 Z" class="k w" stroke-width="1.600"/>
<path d="M329 826 L366 830 M328 832 L365 836 M326 838 L363 842 M323 844 L360 848 M319 849.500 L356 854 M314 854 L350 859" class="l" stroke-width="1.600"/>
<!-- crumpled chart papers -->
<path d="M446.200 798 Q452 792 458 796 L476.300 838 Q498 852 518.800 855.600 Q536 853 549 848.500 Q562 842 572 838 Q558 836 545.400 832.600 Q528 820 517 804 Q508 788 500.300 771.500 L490.500 784.800 Z" class="k w" stroke-width="1.600"/>
<path d="M448 792 Q466 785 483.400 779.500 L490.500 784.800 Q500 793 510 800.700 Q528 818 545.400 830.800 Q528 841 510 848.500 Q494 845 481.700 838 Q462 818 448 792 Z" class="k w" stroke-width="1.600"/>
<g class="l" stroke-width="1.400"><path d="M470 796 Q472 789 477 792 Q481 787 485 792 Q488 797 483 800 Q478 804 474 800 Z M476 792 L480 800 M484 790 L475 799"/><path d="M476 806 L480 805 M476 813 Q482 806 490 808 M484 812 L496 806 M498 800 L504 803"/><path d="M478 822 L516 806 M484 830 L524 813 M492 838 L534 822 M486 814 Q498 826 508 842 M498 808 Q510 820 522 836"/><path d="M505 846 Q520 846 536 840 M540 834 L546 832"/></g>
</g>
<!-- ===== people left ===== -->
<!-- man 1: blue sweater -->
<g>
<!-- trousers -->
<path d="M143.500 680 L190 680 L192 740 L195 817 L175 817 L168.500 761 L151 817 L140 817 L141 740 Z" fill="#b1b1b4" class="k" stroke-width="1.6"/>
<path d="M166.500 737 L168.500 761" class="l" stroke-width="1.400"/>
<path d="M176.300 818.800 Q190 818 198 823 Q209 827 210 831.300 L177 831.300 Z" class="k d" stroke-width="1.4"/>
<!-- raised arm -->
<path d="M189.900 583 L199.400 577.800 L213.100 591.600 Q221 601 223.500 607 Q224 612 220 615.600 L203.700 624.200 L192 630 L190 600 L203.700 598.500 L192.500 586.400 Z" class="k b" stroke-width="1.6"/>
<!-- body -->
<path d="M155.600 600.200 L135.800 607 Q130 611 128.900 617.400 L130.600 639.700 Q133 650 139.200 656.900 L141.800 677.500 Q155 681.500 168.400 681.800 Q180 681.500 189.900 679.200 L190.800 634.600 L192 600 L175 597 Z" class="k b" stroke-width="1.6"/>
<path d="M171 636.300 L170.200 681 M147 620.800 L149.500 636.300 L141 641.400" class="l" stroke-width="1.5"/>
<!-- left forearm -->
<path d="M139.200 656.900 Q141 660 145 658 L163.300 638 L155.600 631.100 L141 641.400" class="k b" stroke-width="1.6"/>
<path d="M157 629.500 L165 636.500" class="l" stroke-width="1.4"/>
<!-- neck/face -->
<path d="M160 590 L160 600 L170 606 L184 600 L183 588 Z" class="w"/>
<path d="M159.900 580 L160.700 593.300 Q166 600 173 600 Q180 599 183.100 590 L182.500 572 L162 574 Z" class="k w" stroke-width="1.5"/>
<path d="M156.400 599.300 L160.700 595 L169.300 605.300 L163.300 612.200 Z" class="k w" stroke-width="1.5"/>
<path d="M169 581 L169 583.500 M178 580 L178 582.500 M174.500 583 L173.500 588 L175.500 588" class="l" stroke-width="1.3"/>
<!-- hair -->
<path d="M153.800 580.400 Q149 572 153 565 Q158 558 168.400 556.300 Q178 556 184 562 Q188 566 186 572 L182 575 L176 570 L161.600 576.100 L159.900 582 L157 584 Z" class="d"/>
<!-- hand on head -->
<path d="M178.800 566 Q182 562 186 565 L196 576.100 L190.800 583.500 L183.900 577.800 Q180 572 178.800 566 Z" class="k w" stroke-width="1.5"/>
<!-- paper -->
<rect x="0" y="0" width="35" height="41" rx="2.500" transform="translate(169.600 593) rotate(1.500)" class="k" fill="#f6f6f7" stroke-width="1.6"/>
<!-- hand -->
<path d="M159.900 627.700 Q164 620 172 616 L178.800 613.900 L182.200 617.400 L177 623 L179 627 L175.300 630 L166.700 634.600 Z" class="k w" stroke-width="1.5"/>
<path d="M170 622 L177 618.500 M171 626 L177.500 622.500" class="l" stroke-width="1.100"/>
</g>
<!-- woman orange standing -->
<g>
<!-- trousers -->
<path d="M247.500 692 L296 700 L298 740 L302.500 777.500 L283 780 L275 722 L266 760 L262 790 L242.500 790 L246 740 Z" class="k d" stroke-width="1.4"/>
<!-- hair -->
<path d="M261.300 622.500 Q262 606 264.700 596.700 Q268 586 276 582.500 Q284 579 291 582 Q298 586 302.500 596.700 Q303 604 299.100 608.800 L297.400 622 L270 622.500 Z" class="d"/>
<!-- jacket -->
<path d="M268.200 622.500 L252.700 627.700 Q247 632 245.800 639.700 L244.900 668.900 L247.500 681 L244.900 693 L278.500 699 L296 700 L307.700 653.500 L310.300 643.100 Q309 632 306 627.700 L292.200 622.500 Z" class="k o" stroke-width="1.6"/>
<path d="M275 622 L284.500 645 L290 624 Z" class="k w" stroke-width="1.3"/>
<path d="M271 622 L274 634 L279 632 L284.500 645 L281 682 M292.200 622.500 L294 634 L289 634 L284.500 645 M262.100 644.900 L263 665.500 L281.900 670.600" class="l" stroke-width="1.5"/>
<!-- face -->
<path d="M273.300 603.600 L275 615.600 Q278 621 283.600 623.400 Q289 622 292.200 617.400 Q295 612 296.500 607 Q293 599 288.800 594.200 Q285 598 280.200 600.200 Q276 601 273.300 603.600 Z" class="k w" stroke-width="1.5"/>
<path d="M272 604 Q269 605 270.500 609 Q272 611.500 274.500 610.500" class="k w" stroke-width="1.2"/>
<path d="M283 607 L283 610 M291 606 L291 609 M283 616 Q286 617.500 289 615.500" class="l" stroke-width="1.4"/>
<!-- paper -->
<path d="M304.300 651.700 L344.700 654.300 L335.200 675.800 Q326 690 318.900 699 L279.300 700.700 L290.500 672.400 Z" class="k w" stroke-width="1.6"/>
<path d="M305 659 L318 659.500 M304 663 L316 663.500 M302 667 L330 668.500 M297 684 L314 685.500" class="l" stroke-width="1.500"/>
<!-- hand -->
<path d="M279.300 669 Q282 667 290 670 L303 673 Q305 676 302 678 L304 680 Q302 684 296 683 L288 685 L279 682 Z" class="k w" stroke-width="1.5"/>
<path d="M293 676 L302 677.500 M293 679.500 L300 681" class="l" stroke-width="1.100"/>
</g>
<!-- kneeling man orange (left) -->
<g>
<!-- foot/sock -->
<path d="M52 822 L73 826 L74 842 L50 842 Z" class="k w" stroke-width="1.5"/>
<path d="M31.300 842.500 Q36 832 52.500 821.300 Q60 821 62.500 826.300 L52 840 Q45 846 36 845.500 Q31 845 31.300 842.500 Z" class="k d" stroke-width="1.4"/>
<!-- trousers -->
<path d="M82.500 788 L130 801 Q150 815 160 830 Q164 838 158.800 842.500 L130 845 L73.800 842.500 L72.500 822.500 L110 820 Q88 808 82.500 788 Z" class="k d" stroke-width="1.4"/>
<path d="M72.500 823 L104 822 Q126 824 136 832" stroke="#9b9ba0" stroke-width="1.200" fill="none"/>
<!-- back arm (lower) -->
<path d="M150 772.500 L166 768 Q172 784 180 790 L205 796 Q216 800 220 807.500 Q222 814 219 818 L214 812 L212 820 L208 813 L203 806 L176 802 Q160 795 150 772.500 Z" class="k w" stroke-width="1.5"/>
<!-- shirt -->
<path d="M83.800 787.500 Q90 770 102.500 757.500 Q112 742 125 732.500 Q135 727 145 726.300 Q153 730 158.800 738.800 Q164 752 166.300 767.500 L150 772.500 L130 800 Q100 795 83.800 787.500 Z" class="k o" stroke-width="1.6"/>
<path d="M141 752 L150 772.500" class="l" stroke-width="1.400"/>
<!-- upper arm to paper -->
<path d="M158 760 L166 767.500 L186 762 L192 758 L196 752 L190 750 L184 755 L164 758 Z" class="k w" stroke-width="1.5"/>
<!-- neck -->
<path d="M152 716 L149 727 L157 735 L166 731 L160 722 Z" class="w"/><path d="M152 717 L149 726.500 M157.500 735 L163 731" class="l" stroke-width="1.400"/>
<!-- face -->
<path d="M155 706 L152 716 Q152 726 158 731 Q164 735 170 732 Q176 728 177 722 L179 716 L176 714 L177 704 L165 700 Z" class="k w" stroke-width="1.5"/>
<path d="M170 712 L172.500 713 M166 726 Q169 727.500 172 725" class="l" stroke-width="1.300"/>
<!-- hair -->
<path d="M150 712 Q147 702 153 697 Q160 692 170 693.500 Q180 694 184 701 Q186 706 182 710 Q176 706 168 706 L160 708 L158 714 Q155 712 154 716 Q154 720 156 722 L151 720 Z" class="d"/>
<!-- paper -->
<path d="M197.500 747.500 L212.500 738.800 L228.800 752.500 Q220 762 208 785 L200 778.800 L188 764 Z" class="k w" stroke-width="1.5"/>
<path d="M201 752 L212 745 M203 756 L216 748 M205 760 L219 751.500 M204 766 L217 758 M206 770 L215 764.500" class="l" stroke-width="1.500"/>
<path d="M186 757 Q190 752 197 750 L199 754 L193 758 L196 760 L190 764 Z" class="k w" stroke-width="1.300"/>
</g>
<!-- standing man orange (right) -->
<g>
<path d="M792 688 L830 686 L833.600 732 L837 819.300 L819.200 819.300 L813.500 760.600 L790.600 723.300 Z" class="k d" stroke-width="1.4"/>
<path d="M819 819 L837 819 L838 826 L820 826 Z" class="k w" stroke-width="1.300"/>
<!-- paper -->
<path d="M711.800 627.300 L734.700 633.100 L743.300 656 L727.500 651.700 Z" class="k w" stroke-width="1.5"/>
<!-- hand -->
<path d="M729 654.600 L741.900 648.800 L753.300 660.300 L754.800 670.300 L739 668.900 Z" class="k w" stroke-width="1.5"/>
<!-- neck -->
<path d="M792 606 L794 616 L806 614 L805 602 Z" class="k w" stroke-width="1.300"/>
<!-- sweater -->
<path d="M794.900 615.900 L810.600 608.700 Q822 616 827.800 625.900 Q832 640 832.100 654.600 L829.300 684.600 Q810 689 792 688.900 L787.700 674.600 L754.800 674.600 L753.300 660.300 L784.800 658.900 L787.700 631.600 Q790 622 794.900 615.900 Z" class="k o" stroke-width="1.6"/>
<path d="M813.500 643.100 L796.300 671.700 L787.700 674.600 M794.900 615.900 L801 618 L810.600 608.700" class="l" stroke-width="1.400"/>
<!-- face -->
<path d="M777.700 586 L775.700 600.100 L778 603 L777 606 Q780 611 786 612.500 Q793 613 798 608 L803.500 603 L800 590 L790 586 Z" class="k w" stroke-width="1.5"/>
<path d="M783 594 L783 596.500 M781 604.500 Q784 606 787 604" class="l" stroke-width="1.300"/>
<!-- hair -->
<path d="M776.200 589 Q770 586 770.500 581.500 Q772 573 779.100 571.500 Q788 566 796.300 569.200 Q806 570 810.600 577.200 Q813 585 809.200 591.500 L803.500 603 Q800 604 798 598 Q798 592 790.600 588.700 Z" class="d"/>
</g>
<!-- kneeling man blue -->
<g>
<!-- sock + shoe -->
<path d="M829 823 L848 824 L849 840 L829 843.700 Z" class="k w" stroke-width="1.400"/>
<path d="M845 823.600 Q846 818 850.700 817.900 L872.200 837.900 Q873 844 865.100 845.100 L847.900 832.200 Z" class="k d" stroke-width="1.400"/>
<!-- trousers -->
<path d="M773.400 793.500 L817.800 789.200 L816.400 806.400 L829.300 823.600 L829.300 843.700 L750.500 843.700 Q733 840 730.400 830.800 Q729 822 736.100 815 Q744 806 756.200 800.700 Z" class="k" fill="#e3e3e6" stroke-width="1.6"/>
<path d="M776.200 829.300 L819.200 816.500" class="l" stroke-width="1.400"/>
<!-- neck -->
<path d="M757 726 L759 735 L773.400 722 L768 714 Z" class="k w" stroke-width="1.300"/>
<!-- shirt -->
<path d="M759.100 734.800 L773.400 721.900 Q783 722 790.600 729.100 Q799 740 804.900 754.800 L817.800 789.200 Q795 794 773.400 793.500 L767.700 783.500 L731.800 790.700 L727.500 777.800 L754.800 766.300 L757.600 746.200 Z" class="k b" stroke-width="1.6"/>
<path d="M770 756 L762 776 L767.700 783.500 M757.600 746.200 L762 738" class="l" stroke-width="1.400"/>
<!-- hands -->
<path d="M697.400 772 Q705 766 716.100 766.300 L731.800 772 L727.500 787.800 L716 787 Q708 787 704.600 783.500 L710 780 L700 778 L706 774 Z" class="k w" stroke-width="1.500"/>
<!-- face -->
<path d="M737.600 699 L736.100 712 L733.500 716 L736.100 719 Q738 726 744.700 727.600 Q751 730 756.200 729.100 L762 716 L758 704 L748 699 Z" class="k w" stroke-width="1.500"/>
<path d="M742 708.500 L744.500 709.500 M739.500 720.500 Q743 722.500 746.500 720" class="l" stroke-width="1.300"/>
<!-- hair -->
<path d="M737.600 701.800 Q731 700 731.800 694.700 Q734 688 741.900 687.500 Q750 683.500 759.100 686.100 Q768 689 770.500 697.500 Q771 706 767.700 713.300 L761.900 716.200 Q758 714 757.600 706.100 L747.600 700.400 Z" class="d"/>
</g>
<!-- kneeling woman orange -->
<g>
<!-- shoes -->
<path d="M690.300 835.100 Q694 828 703.200 827.900 L731.800 846.500 Q728 852 718.900 852.300 Z" class="k d" stroke-width="1.300"/>
<path d="M680 838 L694 838 L712 851 L680 852 Z" class="k d" stroke-width="1.300"/>
<!-- trousers -->
<path d="M655.900 805 L698.300 802.100 L697.400 817.900 Q692 826 681.700 832.200 L680.300 850.800 L621.500 849.400 Q613 845 612.900 837.900 Q616 826 627.200 817.900 Z" class="k d" stroke-width="1.400"/>
<path d="M630 842 Q650 834 678 835" stroke="#9b9ba0" stroke-width="1.200" fill="none"/>
<!-- lower arm -->
<path d="M644.400 766.300 L621.500 789.200 Q610 786 600 778 L580 756 L570 742 L578 740 L590 757 L611.500 770.600 L621.500 757.700 Z" class="k w" stroke-width="1.500"/>
<!-- hands on box -->
<path d="M562 738 Q566 736 570 740 L584 752 L590 757.700 L584 762 L570 750 Z" class="k w" stroke-width="1.400"/>
<!-- shirt -->
<path d="M621.500 757.700 L630.100 739.100 Q638 733 647.300 731.900 Q660 736 670.200 746.200 Q681 760 687.400 772 L698.300 802.100 Q676 806 655.900 805 L644.400 780.600 L644.400 764.900 Z" class="k o" stroke-width="1.600"/>
<path d="M644.400 764.900 L648 752" class="l" stroke-width="1.300"/>
<!-- face -->
<path d="M605.800 715 L607 724 L605 728 L608.600 731.900 Q612 738 618.700 740.500 Q625 740 630.100 737.700 L637.300 730 L630 718 L615 714 Z" class="k w" stroke-width="1.500"/>
<path d="M611 722.500 L614 723.500 M612 733 Q615.500 735 619 732.500" class="l" stroke-width="1.300"/>
<!-- hair -->
<path d="M597.200 714.700 Q597 706 604.300 701.800 Q612 695 621.500 696.100 Q631 697 635.800 703.300 Q640 708 641.600 714.700 Q649 715 651.500 721 Q652 727 648.700 730 Q643 734 637.300 733.400 Q632 731 630.100 726.200 Q628 722 624.400 720.500 L607.200 717.600 L604 719 Z" class="d"/>
</g>
</g>
</svg>
</body>
</html>
